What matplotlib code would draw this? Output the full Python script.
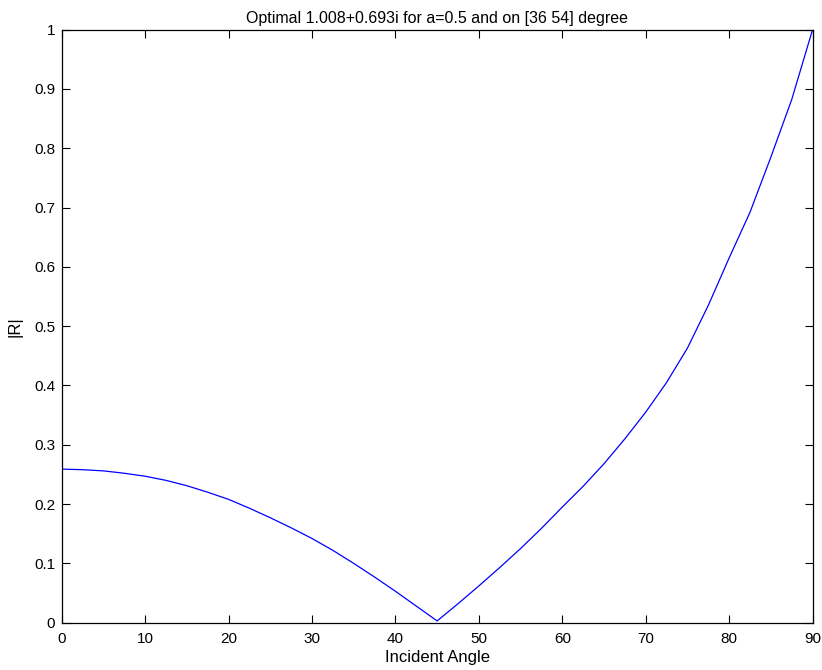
import matplotlib
matplotlib.use("Agg")
import matplotlib.pyplot as plt

# |R| versus incident angle
angles = [0, 2.5, 5, 7.5, 10, 12.5, 15, 17.5, 20, 22.5, 25, 27.5, 30,
          32.5, 35, 37.5, 40, 42.5, 45, 47.5, 50, 52.5, 55, 57.5, 60,
          62.5, 65, 67.5, 70, 72.5, 75, 77.5, 80, 82.5, 85, 87.5, 90]
r_abs = [0.259, 0.258, 0.256, 0.252, 0.247, 0.240, 0.231, 0.220, 0.208,
         0.193, 0.177, 0.160, 0.142, 0.122, 0.100, 0.077, 0.053, 0.028,
         0.003, 0.032, 0.062, 0.093, 0.125, 0.159, 0.195, 0.230, 0.268,
         0.310, 0.355, 0.405, 0.463, 0.535, 0.615, 0.692, 0.785, 0.882, 1.0]

x_ticks = list(range(0, 91, 10))
y_ticks = [round(0.1 * i, 1) for i in range(11)]
y_tick_labels = ["0", "0.1", "0.2", "0.3", "0.4", "0.5", "0.6", "0.7", "0.8", "0.9", "1"]

plt.rcParams["font.family"] = ["Liberation Sans", "DejaVu Sans"]

fig = plt.figure(figsize=(8.22, 6.70), dpi=100)
ax = fig.add_axes([0.0751, 0.0706, 0.9134, 0.8851])

ax.plot(angles, r_abs, color="blue", linewidth=0.9)

ax.set_xlim(0, 90)
ax.set_ylim(0, 1)
ax.set_xticks(x_ticks)
ax.set_yticks(y_ticks)
ax.set_yticklabels(y_tick_labels)
ax.tick_params(direction="in", length=6, width=0.8, top=True, right=True,
               labelsize=11)
ax.tick_params(axis="x", pad=6.5)
ax.tick_params(axis="y", pad=4.8)
for spine in ax.spines.values():
    spine.set_linewidth(0.9)

ax.set_xlabel("Incident Angle", fontsize=12, labelpad=3)
ax.set_ylabel("|R|", fontsize=12, labelpad=8)
ax.set_title("Optimal 1.008+0.693i for a=0.5 and on [36 54] degree", fontsize=11.5, pad=5)

fig.savefig("out.png", dpi=100)
